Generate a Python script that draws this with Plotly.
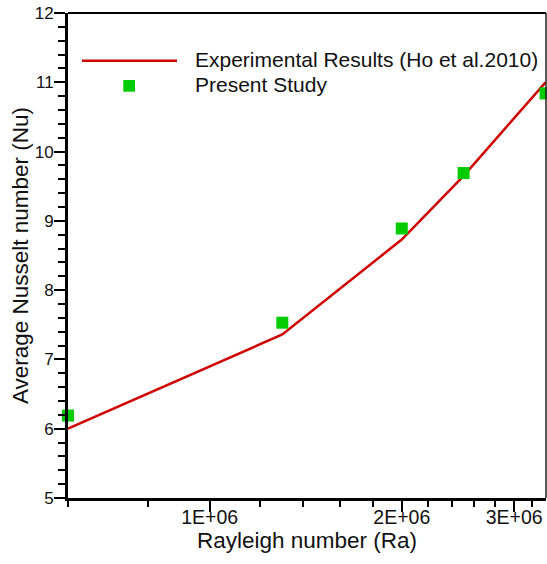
import plotly.graph_objects as go

# Rayleigh numbers of the compared cases
ra_values = [6.0e5, 1.3e6, 2.0e6, 2.5e6, 3.36e6]
# Average Nusselt number, experiment (Ho et al. 2010)
nu_experimental = [6.00, 7.36, 8.73, 9.65, 11.00]
# Average Nusselt number, present numerical study
nu_present = [6.19, 7.53, 8.89, 9.69, 10.84]

x_major_ticks = [1e6, 2e6, 3e6]
x_major_text = ["1E+06", "2E+06", "3E+06"]
x_minor_ticks = [6e5, 8e5, 1.2e6, 1.4e6, 1.6e6, 1.8e6,
                 2.2e6, 2.4e6, 2.6e6, 2.8e6, 3.2e6]

legend_labels = ["Experimental Results (Ho et al.2010)", "Present Study"]

RED = "#D00000"
GREEN = "#00CC00"
FONT = "Liberation Sans, Arial, sans-serif"

fig = go.Figure()

fig.add_trace(go.Scatter(
    x=ra_values, y=nu_experimental, mode="lines",
    line=dict(color=RED, width=2.5),
    name=legend_labels[0], showlegend=False,
))
fig.add_trace(go.Scatter(
    x=ra_values, y=nu_present, mode="markers",
    marker=dict(symbol="square", size=12, color=GREEN, line=dict(width=0)),
    name=legend_labels[1], showlegend=False, cliponaxis=False,
))

fig.update_xaxes(
    type="log",
    range=[5.77815, 6.5270],
    showline=True, linecolor="black", linewidth=3,
    showgrid=False, zeroline=False,
    tickmode="array", tickvals=x_major_ticks, ticktext=x_major_text,
    ticks="outside", ticklen=11, tickwidth=2, tickcolor="black",
    tickfont=dict(family=FONT, size=19.5, color="#111"),
    ticklabelstandoff=-11,
    minor=dict(tickmode="array", tickvals=x_minor_ticks, ticks="outside",
               ticklen=6, tickwidth=1.5, tickcolor="black", showgrid=False),
    title=dict(text="Rayleigh number (Ra)",
               font=dict(family=FONT, size=22.5, color="#111"), standoff=0),
)
fig.update_yaxes(
    range=[5, 12],
    showline=True, linecolor="black", linewidth=3,
    showgrid=False, zeroline=False,
    tickmode="linear", tick0=5, dtick=1,
    ticks="outside", ticklen=11, tickwidth=2, tickcolor="black",
    tickfont=dict(family=FONT, size=17, color="#111"),
    ticklabelstandoff=-3,
    minor=dict(dtick=0.2, ticks="outside", ticklen=7, tickwidth=1.5,
               tickcolor="black", showgrid=False),
    title=dict(text="Average Nusselt number (Nu)",
               font=dict(family=FONT, size=22.5, color="#111"), standoff=0),
)

# thinner frame on the top and right sides
fig.add_shape(type="line", xref="paper", yref="paper", x0=0, x1=1, y0=1, y1=1,
              line=dict(color="black", width=2))
fig.add_shape(type="line", xref="paper", yref="paper", x0=1, x1=1, y0=0, y1=1,
              line=dict(color="#222", width=1.5))

# legend drawn inside the plot area
fig.add_shape(type="line", xref="paper", yref="paper",
              x0=(82 - 68) / 478, x1=(177 - 68) / 478,
              y0=(498 - 60.7) / 485, y1=(498 - 60.7) / 485,
              line=dict(color=RED, width=2.5))
fig.add_shape(type="rect", xref="paper", yref="paper",
              x0=(123.3 - 68) / 478, x1=(135 - 68) / 478,
              y0=(498 - 91.7) / 485, y1=(498 - 80) / 485,
              fillcolor=GREEN, line=dict(width=0))
for label, ypix in zip(legend_labels, [59.5, 84.5]):
    fig.add_annotation(
        xref="paper", yref="paper", x=(193 - 68) / 478, y=(498 - ypix) / 485,
        text=label, showarrow=False, xanchor="left", yanchor="middle",
        font=dict(family=FONT, size=21, color="#111"),
    )

fig.update_layout(
    width=547, height=564,
    margin=dict(l=68, r=1, t=13, b=66),
    paper_bgcolor="white", plot_bgcolor="white",
    showlegend=False,
)

fig.write_html("out.html")
